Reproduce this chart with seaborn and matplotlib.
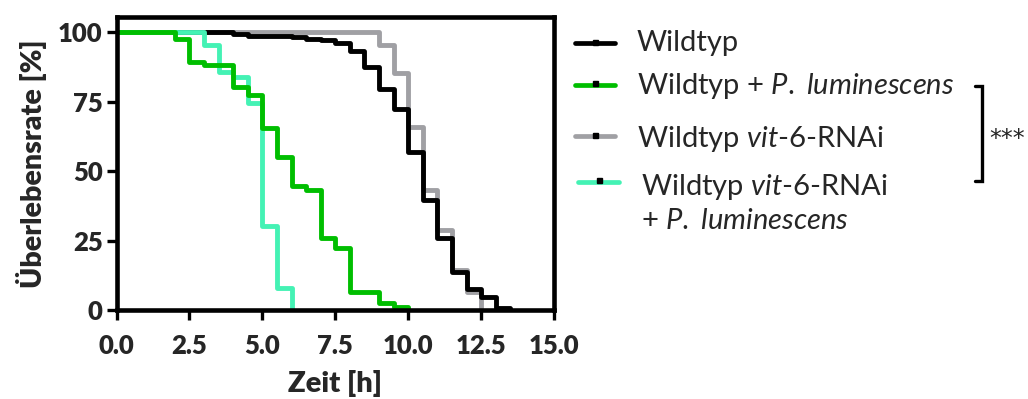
import numpy as np
import pandas as pd
import matplotlib
matplotlib.use("Agg")
import matplotlib.pyplot as plt
from matplotlib.lines import Line2D
import seaborn as sns

# ---------------- data ----------------
groups = ["Wildtyp", "Wildtyp + P. luminescens", "Wildtyp vit-6-RNAi",
          "Wildtyp vit-6-RNAi + P. luminescens"]

wt_time = [0, 4.0, 4.5, 6.0, 6.5, 7.0, 7.5, 8.0, 8.5, 9.0, 9.5, 10.0, 10.5, 11.0, 11.5, 12.0, 12.5, 13.0, 13.5]
wt_surv = [100, 99.2, 98.6, 98.1, 97.6, 97.0, 96.0, 93.0, 87.5, 79.6, 72.2, 57.0, 39.6, 25.8, 13.8, 7.5, 4.5, 0.7, 0]

wtp_time = [0, 2.0, 2.5, 3.0, 4.0, 4.5, 5.0, 5.5, 6.0, 6.5, 7.0, 7.5, 8.0, 9.0, 9.5, 10.0]
wtp_surv = [100, 97.6, 89.3, 88.1, 80.2, 77.5, 65.6, 55.2, 44.7, 43.2, 26.0, 22.2, 6.6, 2.4, 1.2, 0]

rnai_time = [0, 9.0, 9.5, 10.0, 10.5, 11.0, 11.5, 12.0, 12.5]
rnai_surv = [100, 95.3, 85.3, 65.9, 43.2, 28.8, 14.4, 6.4, 0]

rnaip_time = [0, 3.0, 3.5, 4.0, 4.5, 5.0, 5.5, 6.0]
rnaip_surv = [100, 95.4, 85.7, 83.8, 74.4, 30.2, 7.8, 0]

x_ticks = [0.0, 2.5, 5.0, 7.5, 10.0, 12.5, 15.0]
y_ticks = [0, 25, 50, 75, 100]

colors = {groups[0]: "#000000", groups[1]: "#00BE00",
          groups[2]: "#A0A0A4", groups[3]: "#44F2B4"}

frames = []
for g, t, s in [(groups[0], wt_time, wt_surv), (groups[1], wtp_time, wtp_surv),
                (groups[2], rnai_time, rnai_surv), (groups[3], rnaip_time, rnaip_surv)]:
    frames.append(pd.DataFrame({"time": t, "surv": s, "group": g}))
df = pd.concat(frames, ignore_index=True)

# ---------------- style ----------------
sns.set_style("ticks")
plt.rcParams["font.family"] = ["Lato", "DejaVu Sans"]
plt.rcParams["mathtext.fontset"] = "custom"
plt.rcParams["mathtext.rm"] = "Lato"
plt.rcParams["mathtext.it"] = "Lato:italic"
plt.rcParams["mathtext.bf"] = "Lato:bold"

W, H = 1028, 399
fig = plt.figure(figsize=(W / 100, H / 100), dpi=100)
ax = fig.add_axes([116.5 / W, 1 - 310 / H, (554 - 116.5) / W, (310 - 17) / H])

draw_order = [groups[2], groups[0], groups[3], groups[1]]
sns.lineplot(data=df, x="time", y="surv", hue="group", hue_order=draw_order,
             palette=colors, drawstyle="steps-post", estimator=None, sort=False,
             linewidth=3.5, legend=False, ax=ax)

ax.set_xlim(0, 15)
ax.set_ylim(0, 105.4)
ax.set_xticks(x_ticks)
ax.set_xticklabels([f"{v:.1f}" for v in x_ticks])
ax.set_yticks(y_ticks)
ax.set_yticklabels([str(v) for v in y_ticks])
for sp in ax.spines.values():
    sp.set_linewidth(3.3)
    sp.set_color("black")
    sp.set_visible(True)
ax.tick_params(axis="both", direction="out", length=7, width=2.4, color="black",
               labelsize=18.5, pad=3)
ax.tick_params(axis="x", pad=10)
for lab in ax.get_xticklabels() + ax.get_yticklabels():
    lab.set_fontweight("heavy")
ax.set_xlabel("Zeit [h]", fontsize=21, fontweight="heavy", labelpad=9)
ax.set_ylabel("Überlebensrate [%]", fontsize=20.5, fontweight="heavy", labelpad=8)

# ---------------- legend (manual) ----------------
def fx(px):
    return px / W

def fy(py):
    return 1 - py / H

LFS = 21
leg_lines = [(575, 615, 43), (575, 615, 84.5), (575, 615, 136), (578, 619, 182)]
leg_texts = [
    (637, 51.5, "Wildtyp"),
    (637, 94, r"Wildtyp + $\mathit{P.}$ $\mathit{luminescens}$"),
    (637, 146.5, r"Wildtyp $\mathit{vit}$-$\mathit{6}$-RNAi"),
    (641, 195, r"Wildtyp $\mathit{vit}$-$\mathit{6}$-RNAi"),
    (641, 229, r"+ $\mathit{P.}$ $\mathit{luminescens}$"),
]
leg_groups = [groups[0], groups[1], groups[2], groups[3]]
for (x0, x1, yy), g in zip(leg_lines, leg_groups):
    fig.add_artist(Line2D([fx(x0), fx(x1)], [fy(yy), fy(yy)], color=colors[g], lw=3.4,
                          transform=fig.transFigure))
    xm = (x0 + x1) / 2
    fig.add_artist(Line2D([fx(xm)], [fy(yy - 1.5)], marker="s", markersize=3.6,
                          color="black", lw=0, transform=fig.transFigure))
for x0, yb, txt in leg_texts:
    fig.text(fx(x0), fy(yb), txt, fontsize=LFS, ha="left", va="baseline")

# bracket + significance
bx, btop, bbot, hook = 981.5, 86, 181, 975
fig.add_artist(Line2D([fx(hook), fx(bx), fx(bx), fx(hook)],
                      [fy(btop), fy(btop), fy(bbot), fy(bbot)], color="black", lw=2.4,
                      transform=fig.transFigure, solid_joinstyle="miter"))
fig.text(fx(1007.5), fy(146), "***", fontsize=17, ha="center", va="baseline",
         family=["DejaVu Sans"])

fig.savefig("out.png", dpi=100)
